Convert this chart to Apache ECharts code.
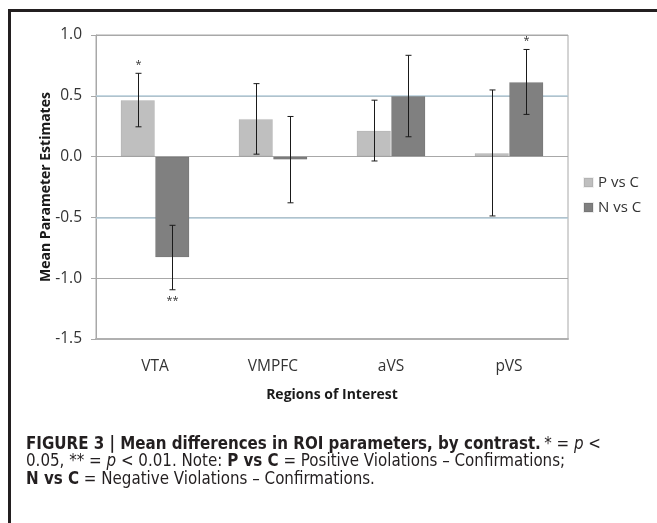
<!DOCTYPE html>
<html>
<head>
<meta charset="utf-8">
<script src="https://cdn.jsdelivr.net/npm/echarts@6/dist/echarts.min.js"></script>
<style>
  html, body { margin: 0; padding: 0; background: #fff; }
  #chart { width: 657px; height: 523px; }
</style>
</head>
<body>
<div id="chart"></div>
<script>
// regions and the two contrasts
const regions = ['VTA', 'VMPFC', 'aVS', 'pVS'];
const pVsC = [0.465, 0.31, 0.214, 0.03];
const nVsC = [-0.83, -0.025, 0.498, 0.614];
// half-length of the error bars
const pErr = [0.22, 0.29, 0.25, 0.518];
const nErr = [0.265, 0.355, 0.335, 0.267];
// significance marks
const pSig = ['*', '', '', ''];
const nSig = ['**', '', '', '*'];
// the two bluish reference lines of the back wall
const wallLines = [0.5, -0.5];

const chart = echarts.init(document.getElementById('chart'));
const CAT_GAP = 0.415;
const axisFont = "'Open Sans', 'DejaVu Sans', sans-serif";
const capFont = "'Liberation Sans Narrow', 'DejaVu Sans Condensed', sans-serif";
const capSize = '16.8px ';

// error bars drawn on top of the bars, shifted to the bar's half of the band
const errorBars = (side, sig) => (params, api) => {
  const i = api.value(0);
  const v = api.value(1);
  const e = api.value(2);
  const band = api.size([1, 0])[0];
  const barW = band * (1 - CAT_GAP) / 2;
  const x = Math.round(api.coord([i, 0])[0] + side * barW / 2) + 0.5;
  const yTop = api.coord([i, v + e])[1];
  const yBot = api.coord([i, v - e])[1];
  const style = { stroke: '#1a1a1a', lineWidth: 1 };
  const children = [
    { type: 'line', shape: { x1: x, y1: yTop, x2: x, y2: yBot }, style },
    { type: 'line', shape: { x1: x - 3, y1: yTop, x2: x + 3, y2: yTop }, style },
    { type: 'line', shape: { x1: x - 3, y1: yBot, x2: x + 3, y2: yBot }, style }
  ];
  const s = sig[params.dataIndex];
  if (s) {
    children.push({
      type: 'text',
      style: {
        text: s, x: x, y: v >= 0 ? yTop - 3 : yBot + 6,
        align: 'center', verticalAlign: v >= 0 ? 'bottom' : 'top',
        fill: '#333', font: '11px ' + axisFont
      }
    });
  }
  return { type: 'group', children };
};

const rich = {
  b: { font: 'bold ' + capSize + capFont, fill: '#231f20' },
  n: { font: capSize + capFont, fill: '#231f20' },
  i: { font: 'italic ' + capSize + capFont, fill: '#231f20' }
};

const option = {
  animation: false,
  backgroundColor: '#fff',
  grid: { left: 96, right: 89, top: 35, bottom: 184, show: true, borderColor: '#a8a8a8', borderWidth: 1 },
  legend: {
    orient: 'vertical', left: 578, top: 170, itemWidth: 9, itemHeight: 9, itemGap: 10,
    icon: 'rect',
    textStyle: { color: '#333', fontSize: 15, fontFamily: axisFont },
    data: ['P vs C', 'N vs C']
  },
  xAxis: {
    type: 'category',
    data: regions,
    name: 'Regions of Interest',
    nameLocation: 'middle',
    nameGap: 49,
    nameMoveOverlap: false,
    nameTextStyle: { color: '#1a1a1a', fontSize: 14, fontWeight: 'bold', fontFamily: axisFont },
    position: 'bottom',
    axisLine: { onZero: false, lineStyle: { color: '#b0b0b0', width: 2 } },
    axisTick: { show: false },
    axisLabel: { color: '#333', fontSize: 15.5, margin: 20, fontFamily: axisFont }
  },
  yAxis: {
    type: 'value',
    min: -1.5, max: 1.0, interval: 0.5,
    name: 'Mean Parameter Estimates',
    nameLocation: 'middle',
    nameGap: 43,
    nameMoveOverlap: false,
    nameTextStyle: { color: '#1a1a1a', fontSize: 14, fontWeight: 'bold', fontFamily: axisFont },
    axisLine: { show: true, lineStyle: { color: '#a8a8a8' } },
    axisTick: { show: true, length: 5, lineStyle: { color: '#a8a8a8' } },
    axisLabel: { color: '#333', fontSize: 15.5, margin: 14, fontFamily: axisFont,
      formatter: v => v.toFixed(1) },
    splitLine: { lineStyle: { color: '#a8a8a8' } }
  },
  series: [
    {
      name: 'P vs C', type: 'bar', data: pVsC, z: 3,
      barGap: '0%', barCategoryGap: (CAT_GAP * 100) + '%',
      itemStyle: { color: '#bfbfbf', borderColor: 'rgba(0,0,0,0.06)', borderWidth: 1 },
      markLine: {
        silent: true, symbol: 'none', z: 1, animation: false,
        label: { show: false },
        lineStyle: { color: '#b3cbd8', type: 'solid', width: 1.5 },
        data: wallLines.map(v => ({ yAxis: v }))
      }
    },
    {
      name: 'N vs C', type: 'bar', data: nVsC, z: 3,
      itemStyle: { color: '#808080', borderColor: 'rgba(0,0,0,0.08)', borderWidth: 1 }
    },
    {
      type: 'custom', z: 5, silent: true,
      renderItem: errorBars(-1, pSig),
      encode: { x: 0, y: 1 },
      data: pVsC.map((v, i) => [i, v, pErr[i]])
    },
    {
      type: 'custom', z: 5, silent: true,
      renderItem: errorBars(1, nSig),
      encode: { x: 0, y: 1 },
      data: nVsC.map((v, i) => [i, v, nErr[i]])
    }
  ],
  graphic: [
    // figure frame
    { type: 'line', shape: { x1: 9.5, y1: 9, x2: 9.5, y2: 523 }, style: { stroke: '#231f20', lineWidth: 3 } },
    { type: 'line', shape: { x1: 8, y1: 10.5, x2: 657, y2: 10.5 }, style: { stroke: '#231f20', lineWidth: 3 } },
    // caption
    {
      type: 'text', left: 26, top: 436,
      style: { text: '{b|FIGURE 3 | Mean differences in ROI parameters, by contrast.} {n|* = }{i|p}{n| <}', rich }
    },
    {
      type: 'text', left: 26, top: 453.5,
      style: { text: '{n|0.05, ** = }{i|p}{n| < 0.01. Note: }{b|P vs C}{n| = Positive Violations – Confirmations;}', rich }
    },
    {
      type: 'text', left: 26, top: 471,
      style: { text: '{b|N vs C}{n| = Negative Violations – Confirmations.}', rich }
    }
  ]
};

chart.setOption(option);
</script>
</body>
</html>
